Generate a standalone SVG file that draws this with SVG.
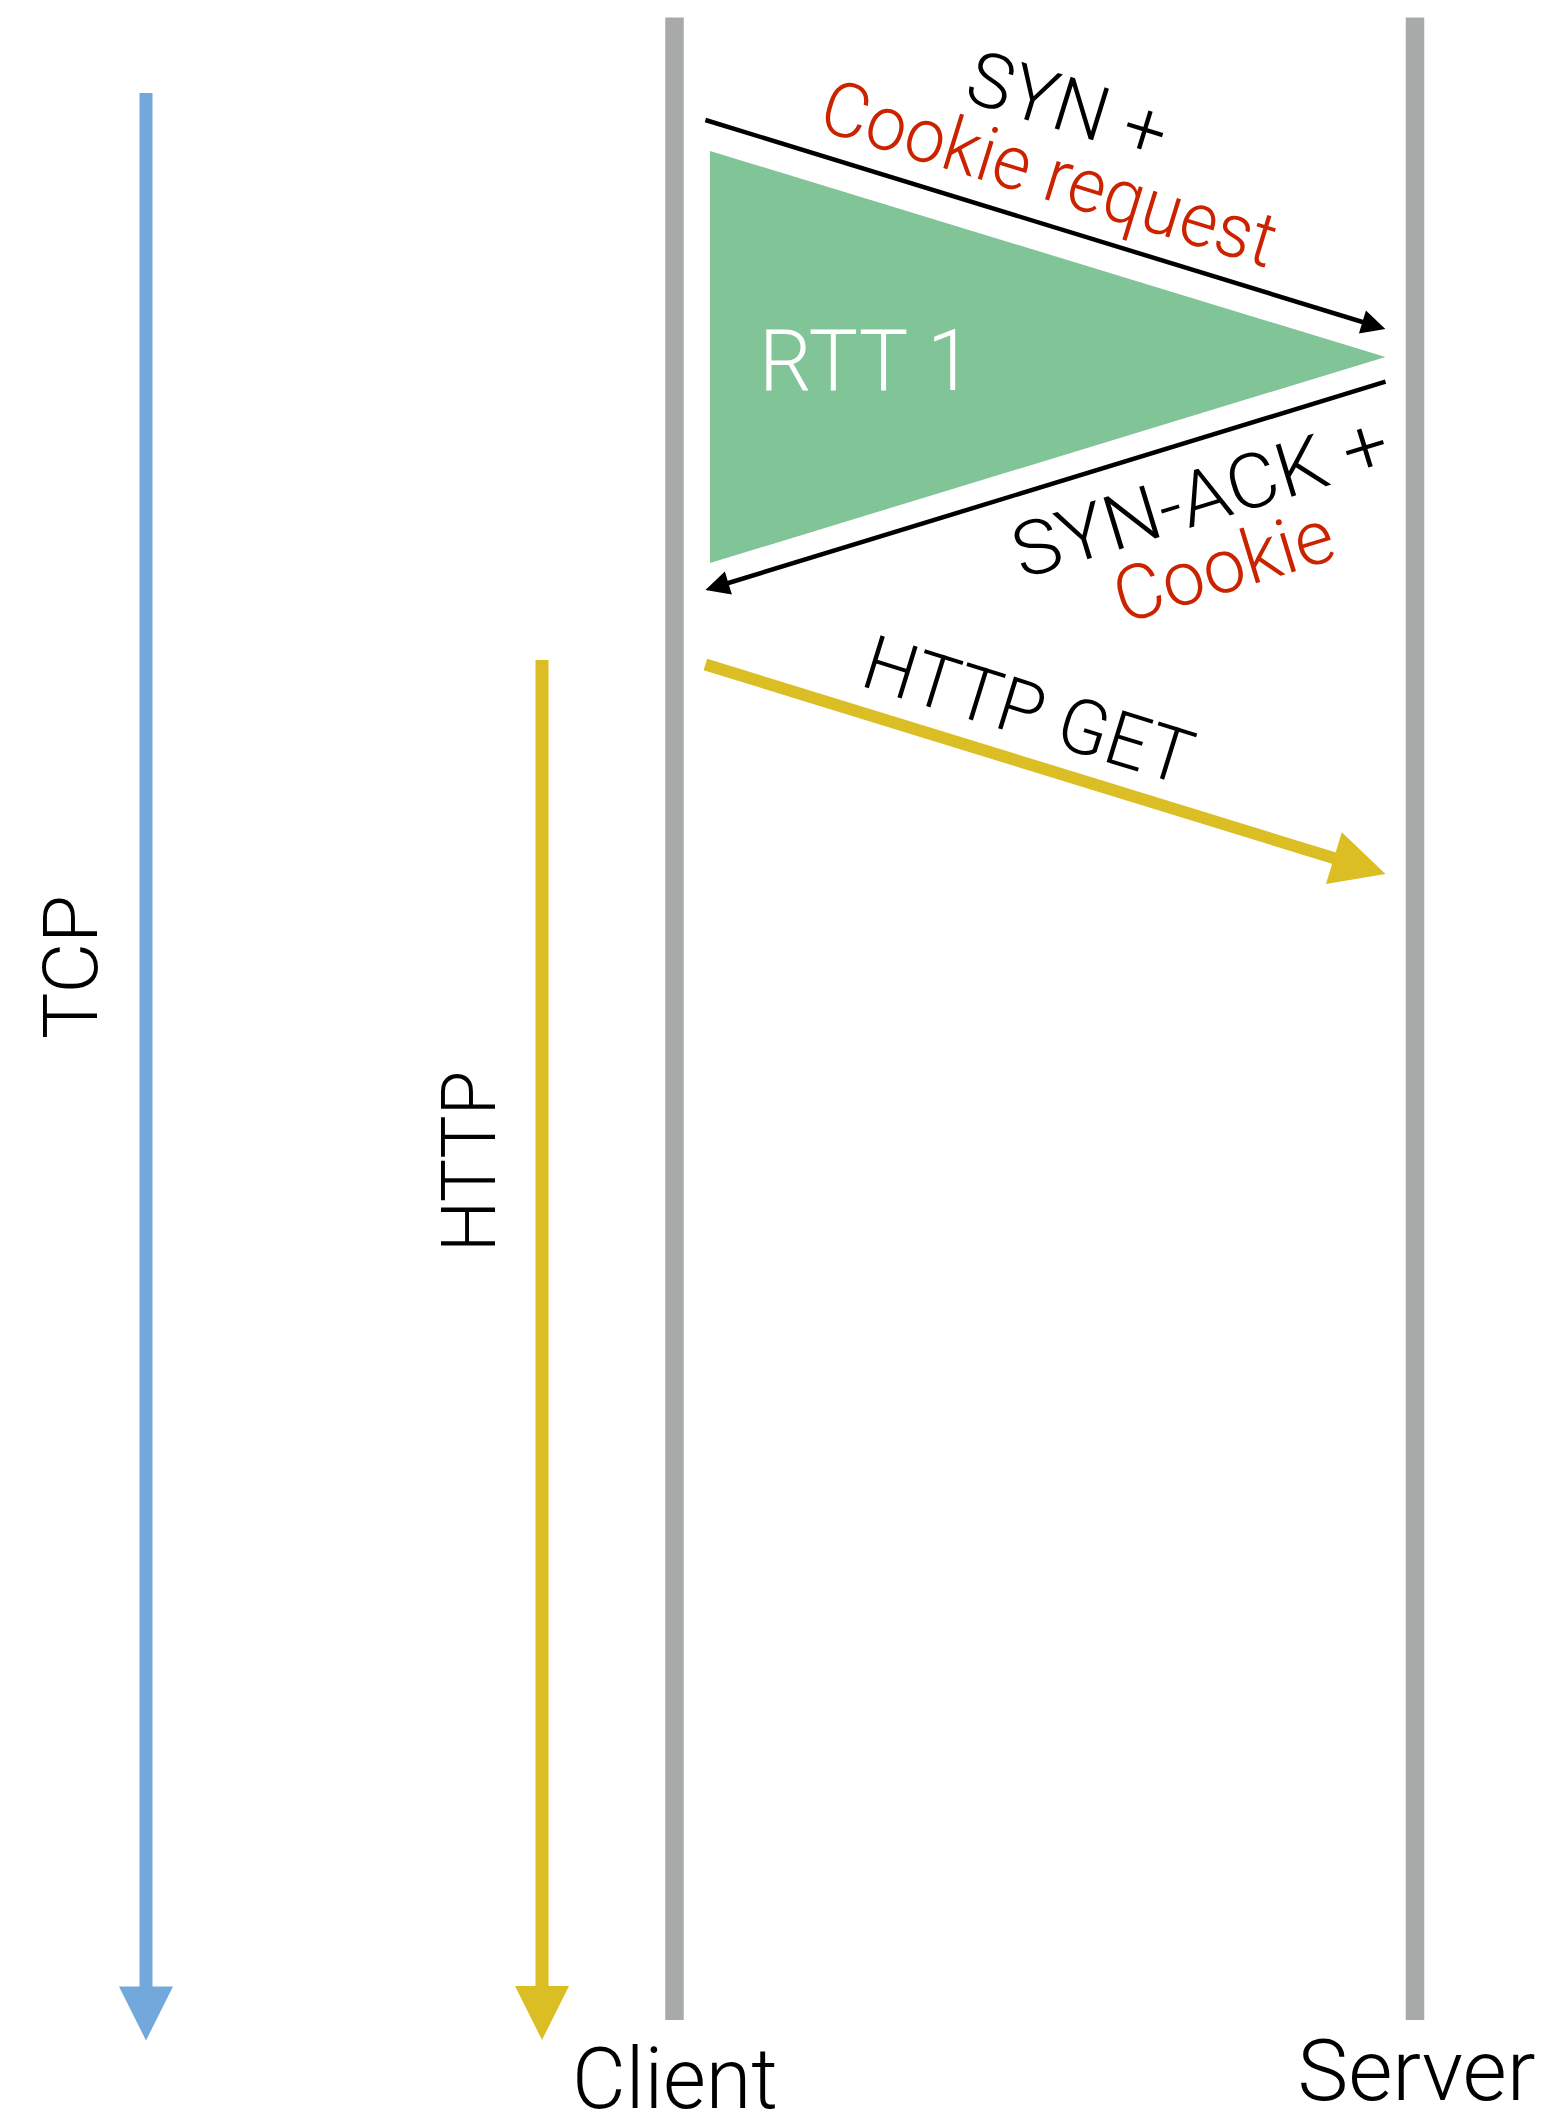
<svg xmlns="http://www.w3.org/2000/svg" width="1542" height="2115" viewBox="0 0 1542 2115">
  <style>
    .lbl { font-family: Roboto, "Liberation Sans", "DejaVu Sans", sans-serif; font-weight: 300; fill: #000; }
    .red { fill: #CB2300; }
    .white { fill: #FFFFFF; }
    .lifeline { stroke: #A7AAA9; stroke-width: 18.5; fill: none; }
    .msg { stroke: #000; stroke-width: 4.5; fill: none; }
    .get { stroke: #DBBE23; stroke-width: 12; fill: none; }
    .tcp { stroke: #72A8DB; stroke-width: 13; fill: none; }
    .http { stroke: #DBBE23; stroke-width: 13; fill: none; }
  </style>
  <defs>
    <marker id="headBlack" markerUnits="userSpaceOnUse" markerWidth="24" markerHeight="24" refX="12" refY="12" orient="auto" overflow="visible">
      <path d="M0,0 L24,12 L0,24 Z" fill="#000"/>
    </marker>
    <marker id="headYellow" markerUnits="userSpaceOnUse" markerWidth="54" markerHeight="54" refX="27" refY="27" orient="auto" overflow="visible">
      <path d="M0,0 L54,27 L0,54 Z" fill="#DBBE23"/>
    </marker>
    <marker id="headBlue" markerUnits="userSpaceOnUse" markerWidth="54" markerHeight="54" refX="27" refY="27" orient="auto" overflow="visible">
      <path d="M0,0 L54,27 L0,54 Z" fill="#72A8DB"/>
    </marker>
  </defs>

  <rect width="1542" height="2115" fill="#FFFFFF"/>

  <!-- lifelines -->
  <g id="client">
    <line class="lifeline" x1="674.5" y1="17.5" x2="674.5" y2="2020"/>
    <text class="lbl" x="675" y="2108" font-size="86" text-anchor="middle" textLength="206" lengthAdjust="spacingAndGlyphs">Client</text>
  </g>
  <g id="server">
    <line class="lifeline" x1="1415" y1="17.5" x2="1415" y2="2020"/>
    <text class="lbl" x="1416.5" y="2100" font-size="86" text-anchor="middle" textLength="238" lengthAdjust="spacingAndGlyphs">Server</text>
  </g>

  <!-- round-trip wedge -->
  <g id="rtt1">
    <polygon points="710,151 1385.5,357 710,563" fill="#80C497"/>
    <text class="lbl white" x="866" y="390" font-size="86" text-anchor="middle" textLength="214" lengthAdjust="spacingAndGlyphs">RTT 1</text>
  </g>

  <!-- protocol timelines -->
  <g id="tcp">
    <text class="lbl" transform="translate(96.5,967) rotate(-90)" font-size="76" text-anchor="middle" textLength="144" lengthAdjust="spacingAndGlyphs">TCP</text>
  </g>
  <g id="http">
    <text class="lbl" transform="translate(495,1161.5) rotate(-90)" font-size="76" text-anchor="middle" textLength="181" lengthAdjust="spacingAndGlyphs">HTTP</text>
  </g>

  <!-- message labels -->
  <g id="syn-label">
    <text class="lbl" transform="translate(1060,130.1) rotate(17.1)" font-size="76" text-anchor="middle" textLength="205" lengthAdjust="spacingAndGlyphs">SYN +</text>
    <text class="lbl red" transform="translate(1041.6,198.4) rotate(17.1)" font-size="76" text-anchor="middle" textLength="472" lengthAdjust="spacingAndGlyphs">Cookie request</text>
  </g>
  <g id="synack-label">
    <text class="lbl" transform="translate(1208,522.3) rotate(-17)" font-size="76" text-anchor="middle" textLength="389" lengthAdjust="spacingAndGlyphs">SYN-ACK +</text>
    <text class="lbl red" transform="translate(1231.1,591) rotate(-17)" font-size="76" text-anchor="middle" textLength="226" lengthAdjust="spacingAndGlyphs">Cookie</text>
  </g>
  <g id="get-label">
    <text class="lbl" transform="translate(1020.7,735.3) rotate(17.2)" font-size="76" text-anchor="middle" textLength="340" lengthAdjust="spacingAndGlyphs">HTTP GET</text>
  </g>

  <!-- connectors -->
  <g id="connectors">
    <line id="syn" class="msg" x1="705.4" y1="120" x2="1373.9" y2="325.5" marker-end="url(#headBlack)"/>
    <line id="synack" class="msg" x1="1385.5" y1="381.7" x2="716.9" y2="586.5" marker-end="url(#headBlack)"/>
    <line id="get" class="get" x1="705.4" y1="664.5" x2="1359.7" y2="866.1" marker-end="url(#headYellow)"/>
    <line id="tcp-span" class="tcp" x1="146" y1="93" x2="146" y2="2013.5" marker-end="url(#headBlue)"/>
    <line id="http-span" class="http" x1="542" y1="660" x2="542" y2="2013" marker-end="url(#headYellow)"/>
  </g>
</svg>
